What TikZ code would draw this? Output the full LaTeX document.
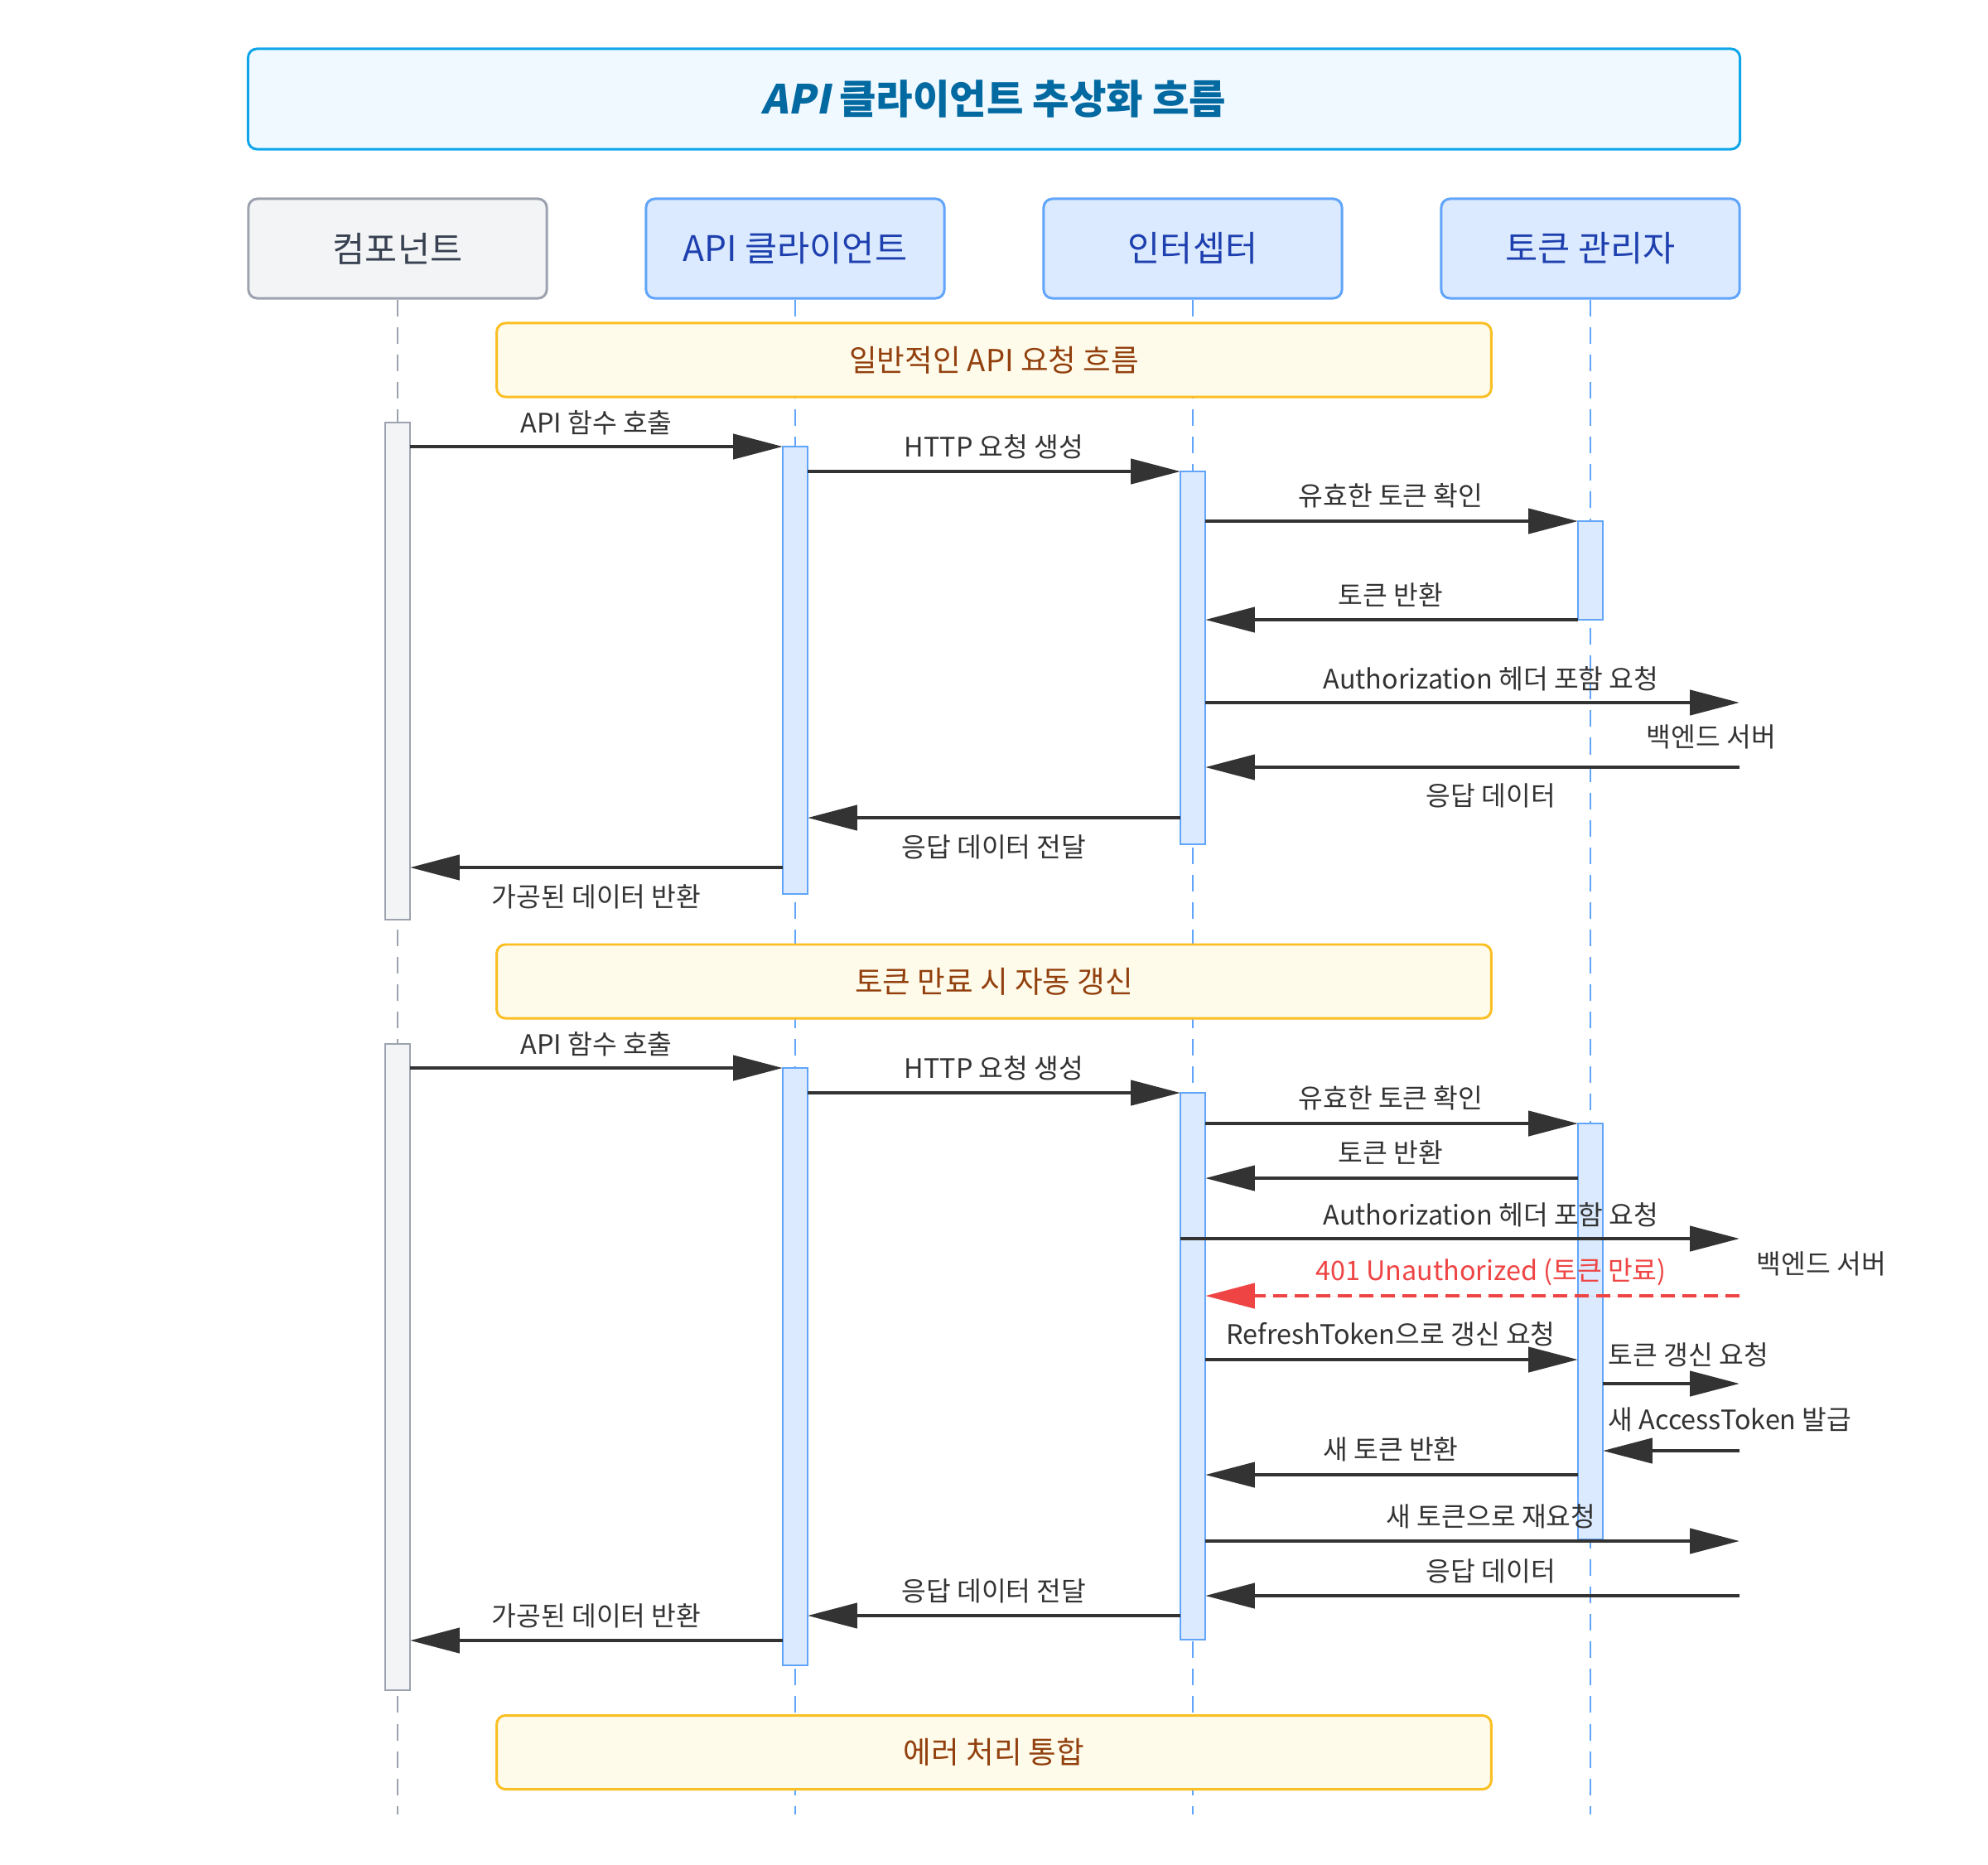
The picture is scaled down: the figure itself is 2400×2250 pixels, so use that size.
\documentclass[tikz,border=0pt]{standalone}
\usepackage{fontspec}
\setmainfont{Noto Sans CJK KR}
\newfontfamily\slantfont{Noto Sans CJK KR}[FakeSlant=0.2]
\usetikzlibrary{arrows.meta}
\definecolor{titlefill}{HTML}{F0F9FF}
\definecolor{titledraw}{HTML}{0EA5E9}
\definecolor{titletext}{HTML}{0369A1}
\definecolor{compfill}{HTML}{F3F4F6}
\definecolor{compdraw}{HTML}{9CA3AF}
\definecolor{comptext}{HTML}{374151}
\definecolor{partfill}{HTML}{DBEAFE}
\definecolor{partdraw}{HTML}{60A5FA}
\definecolor{parttext}{HTML}{1E40AF}
\definecolor{notefill}{HTML}{FFFBEA}
\definecolor{notedraw}{HTML}{FBBF24}
\definecolor{notetext}{HTML}{92400E}
\definecolor{msgcol}{HTML}{333333}
\definecolor{errcol}{HTML}{EF4444}

\begin{document}
\begin{tikzpicture}[x=0.01cm,y=-0.01cm,font=\fontsize{9.2}{11}\selectfont]
  \tikzstyle{titlebox}=[draw=titledraw,fill=titlefill,line width=0.85pt,rounded corners=3pt,
    minimum width=18cm,minimum height=1.21cm,text=titletext,font=\fontsize{13.75}{16}\selectfont\bfseries]
  \tikzstyle{compbox}=[draw=compdraw,fill=compfill,line width=0.85pt,rounded corners=3pt,
    minimum width=3.6cm,minimum height=1.2cm,text=comptext,font=\fontsize{12.1}{14}\selectfont]
  \tikzstyle{partbox}=[compbox,draw=partdraw,fill=partfill,text=parttext]
  \tikzstyle{notebox}=[draw=notedraw,fill=notefill,line width=0.85pt,rounded corners=3pt,
    minimum width=12cm,minimum height=0.89cm,text=notetext,font=\fontsize{10.4}{12}\selectfont]
  \tikzstyle{compline}=[draw=compdraw,line width=0.6pt,dash pattern=on 5.7pt off 3.7pt]
  \tikzstyle{partline}=[compline,draw=partdraw]
  \tikzstyle{compbar}=[draw=compdraw,fill=compfill,line width=0.65pt,minimum width=0.3cm,
    inner sep=0pt,outer sep=0pt]
  \tikzstyle{partbar}=[compbar,draw=partdraw,fill=partfill]
  \tikzstyle{msg}=[draw=msgcol,line width=1.3pt,-{Triangle[length=17pt,width=8.5pt]}]
  \tikzstyle{errmsg}=[msg,draw=errcol,fill=errcol,dash pattern=on 4.8pt off 2.6pt]
  \tikzstyle{lab}=[text=msgcol,inner sep=0pt]
  \useasboundingbox (0,0) rectangle (2400,2250);

  % title and participants
  \node[titlebox] (title) at (1200,119.5) {{\slantfont API} 클라이언트 추상화 흐름};
  \node[compbox] (comp) at (480,300) {컴포넌트};
  \node[partbox] (client) at (960,300) {API 클라이언트};
  \node[partbox] (inter) at (1440,300) {인터셉터};
  \node[partbox] (token) at (1920,300) {토큰 관리자};

  % lifelines
  \draw[compline] (comp.south) -- (comp.south |- 0,2190);
  \foreach \p in {client,inter,token}
    \draw[partline] (\p.south) -- (\p.south |- 0,2190);

  % notes
  \node[notebox] (note1) at (1200,434.5) {일반적인 API 요청 흐름};
  \node[notebox] (note2) at (1200,1184.5) {토큰 만료 시 자동 갱신};
  \node[notebox] (note3) at (1200,2115) {에러 처리 통합};

  % activation bars
  \node[compbar,minimum height=6cm] (cb1) at (480,810) {};
  \node[partbar,minimum height=5.4cm] (ab1) at (960,809) {};
  \node[partbar,minimum height=4.5cm] (ib1) at (1440,794) {};
  \node[partbar,minimum height=1.19cm] (tb1) at (1920,688.5) {};
  \node[compbar,minimum height=7.8cm] (cb2) at (480,1650) {};
  \node[partbar,minimum height=7.21cm] (ab2) at (960,1649.5) {};
  \node[partbar,minimum height=6.6cm] (ib2) at (1440,1649) {};
  \node[partbar,minimum height=5.02cm] (tb2) at (1920,1607) {};
  \coordinate (srv) at (2100,0);

  % normal request flow
  \draw[msg] (cb1.east |- 0,539) -- (ab1.west |- 0,539);
  \node[lab] (m1) at (720,510) {API 함수 호출};
  \draw[msg] (ab1.east |- 0,569) -- (ib1.west |- 0,569);
  \node[lab] (m2) at (1200,539) {HTTP 요청 생성};
  \draw[msg] (ib1.east |- 0,629) -- (tb1.west |- 0,629);
  \node[lab] (m3) at (1679,598) {유효한 토큰 확인};
  \draw[msg] (tb1.west |- 0,748) -- (ib1.east |- 0,748);
  \node[lab] (m4) at (1679,718) {토큰 반환};
  \draw[msg] (ib1.east |- 0,848) -- (srv |- 0,848);
  \node[lab] (m5) at (1800,819) {Authorization 헤더 포함 요청};
  \node[lab] (srv1) at (2066,889) {백엔드 서버};
  \draw[msg] (srv |- 0,926) -- (ib1.east |- 0,926);
  \node[lab] (m6) at (1800,960) {응답 데이터};
  \draw[msg] (ib1.west |- 0,987) -- (ab1.east |- 0,987);
  \node[lab] (m7) at (1200,1022) {응답 데이터 전달};
  \draw[msg] (ab1.west |- 0,1047) -- (cb1.east |- 0,1047);
  \node[lab] (m8) at (720,1082) {가공된 데이터 반환};

  % token refresh flow
  \draw[msg] (cb2.east |- 0,1289) -- (ab2.west |- 0,1289);
  \node[lab] (r1) at (720,1260) {API 함수 호출};
  \draw[msg] (ab2.east |- 0,1319) -- (ib2.west |- 0,1319);
  \node[lab] (r2) at (1200,1289) {HTTP 요청 생성};
  \draw[msg] (ib2.east |- 0,1356) -- (tb2.west |- 0,1356);
  \node[lab] (r3) at (1679,1325) {유효한 토큰 확인};
  \draw[msg] (tb2.west |- 0,1422) -- (ib2.east |- 0,1422);
  \node[lab] (r4) at (1679,1391) {토큰 반환};
  \draw[msg] (ib2.west |- 0,1495) -- (srv |- 0,1495);
  \node[lab] (r5) at (1800,1466) {Authorization 헤더 포함 요청};
  \node[lab] (srv2) at (2199,1525) {백엔드 서버};
  \draw[errmsg] (srv |- 0,1564) -- (ib2.east |- 0,1564);
  \node[lab,text=errcol] (r6) at (1800,1535) {401 Unauthorized (토큰 만료)};
  \draw[msg] (ib2.east |- 0,1641) -- (tb2.west |- 0,1641);
  \node[lab] (r7) at (1679,1610) {RefreshToken으로 갱신 요청};
  \draw[msg] (tb2.east |- 0,1670) -- (srv |- 0,1670);
  \node[lab,anchor=west] (r8) at (1941,1635) {토큰 갱신 요청};
  \draw[msg] (srv |- 0,1751) -- (tb2.east |- 0,1751);
  \node[lab,anchor=west] (r9) at (1941,1713) {새 AccessToken 발급};
  \draw[msg] (tb2.west |- 0,1780) -- (ib2.east |- 0,1780);
  \node[lab] (r10) at (1679,1749) {새 토큰 반환};
  \draw[msg] (ib2.east |- 0,1860) -- (srv |- 0,1860);
  \node[lab] (r11) at (1800,1830) {새 토큰으로 재요청};
  \draw[msg] (srv |- 0,1926) -- (ib2.east |- 0,1926);
  \node[lab] (r12) at (1800,1896) {응답 데이터};
  \draw[msg] (ib2.west |- 0,1950) -- (ab2.east |- 0,1950);
  \node[lab] (r13) at (1200,1920) {응답 데이터 전달};
  \draw[msg] (ab2.west |- 0,1980) -- (cb2.east |- 0,1980);
  \node[lab] (r14) at (720,1950) {가공된 데이터 반환};
\end{tikzpicture}
\end{document}
